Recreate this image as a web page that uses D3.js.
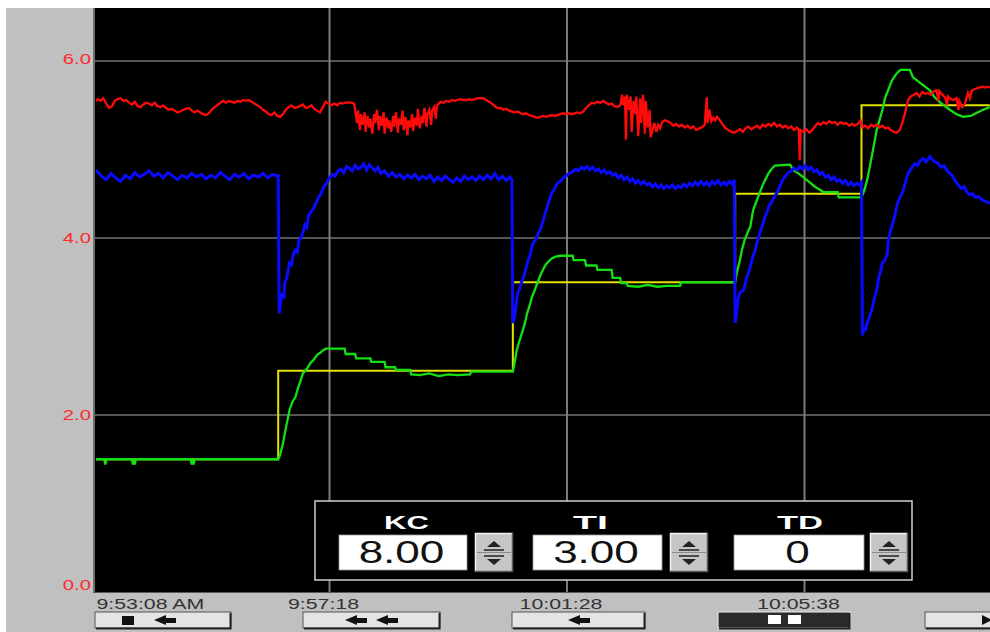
<!DOCTYPE html>
<html>
<head>
<meta charset="utf-8">
<script src="https://cdn.jsdelivr.net/npm/d3@7"></script>
<style>
  html, body { margin: 0; padding: 0; background: #ffffff; }
  svg { display: block; }
  text { font-family: "Liberation Sans", Arial, sans-serif; }
</style>
</head>
<body>
<svg id="trend" width="990" height="632"></svg>
<script>
// ---- trend data: [seconds after 9:53:08, value] ----
const tickSeconds = [0, 250, 500, 750];
const tickLabels = ["9:53:08 AM", "9:57:18", "10:01:28", "10:05:38"];
const yTicks = [0, 2, 4, 6];

// setpoint (yellow)
const setpoint = [[0,1.5],[196,1.5],[196,2.5],[443,2.5],[443,3.5],[677,3.5],[677,4.5],[810,4.5],[810,5.5],[945,5.5]];

// process variable (green)
const processVar = [[0,1.5],[13,1.5],[14,1.44],[15,1.5],[42,1.5],[43,1.44],[44,1.5],[45,1.44],[46,1.5],[104,1.5],[105,1.44],[106,1.5],[107,1.44],[108,1.5],
  [196,1.5],[198,1.55],[201,1.68],[204,1.85],[208,2.06],[211,2.15],[214,2.2],[217,2.31],[220,2.40],[222,2.47],[226,2.52],[230,2.59],[233,2.62],[237,2.68],[240,2.70],[243,2.73],[246,2.75],
  [266,2.75],[267,2.69],[277,2.69],[278,2.64],[293,2.64],[294,2.60],[308,2.60],[309,2.54],[319,2.54],[320,2.51],[335,2.51],[336,2.46],[345,2.45],[355,2.47],[365,2.44],[375,2.46],[385,2.45],[398,2.46],[399,2.49],
  [443,2.49],[445,2.60],[447,2.73],[450,2.84],[453,2.94],[456,3.05],[458,3.15],[461,3.25],[463,3.33],[466,3.41],[468,3.47],[472,3.58],[477,3.69],[480,3.73],[484,3.77],[488,3.79],[493,3.80],
  [506,3.80],[507,3.75],[519,3.75],[520,3.69],[531,3.69],[532,3.64],[547,3.64],[548,3.55],[556,3.55],[557,3.49],[563,3.49],[564,3.46],[575,3.45],[585,3.47],[595,3.45],[605,3.46],[619,3.46],[620,3.5],
  [677,3.5],[679,3.62],[682,3.75],[684,3.86],[687,3.98],[690,4.06],[693,4.13],[696,4.32],[701,4.46],[706,4.6],[712,4.73],[716,4.79],[719,4.82],[735,4.83],[738,4.77],[745,4.72],[752,4.66],[761,4.58],[770,4.52],[785,4.52],[786,4.46],
  [810,4.46],[813,4.54],[816,4.66],[819,4.82],[822,4.99],[826,5.22],[832,5.45],[835,5.59],[838,5.67],[842,5.78],[847,5.86],[851,5.90],[861,5.90],[864,5.82],[872,5.75],[882,5.67],[887,5.59],[893,5.53],[903,5.45],[910,5.40],[917,5.37],[925,5.38],[932,5.42],[938,5.45],[945,5.48]];

// controller output (blue)
const ctrlOutput = [[0,4.72],[5,4.76],[10,4.70],[15,4.66],[20,4.73],[25,4.68],[30,4.64],[35,4.71],[40,4.67],[45,4.74],[50,4.69],[55,4.72],[60,4.76],[65,4.70],[70,4.73],[75,4.68],[80,4.74],[85,4.70],[90,4.66],[95,4.71],
  [100,4.68],[105,4.73],[110,4.69],[115,4.72],[120,4.67],[125,4.71],[130,4.68],[135,4.74],[140,4.70],[145,4.66],[150,4.72],[155,4.69],[160,4.73],[165,4.67],[170,4.71],[175,4.69],[180,4.73],[185,4.68],[190,4.72],[195,4.70],[196,4.72],
  [197,3.15],[199,3.30],[200,3.38],[202,3.32],[203,3.50],[205,3.55],[208,3.72],[210,3.70],[212,3.82],[214,3.86],[216,3.84],[218,3.98],[220,4.00],[222,4.06],[224,4.15],[226,4.12],[228,4.25],[230,4.29],[233,4.33],[236,4.40],[238,4.45],
  [241,4.50],[244,4.58],[247,4.62],[250,4.68],[253,4.72],[256,4.70],[259,4.76],[262,4.78],[265,4.74],[268,4.81],[271,4.79],[274,4.76],[277,4.82],[280,4.78],[283,4.80],[286,4.84],[289,4.77],[292,4.83],[295,4.79],[298,4.76],
  [301,4.80],[304,4.73],[308,4.76],[312,4.70],[316,4.74],[320,4.69],[324,4.72],[328,4.67],[332,4.71],[336,4.68],[340,4.72],[344,4.66],[348,4.70],[352,4.67],[356,4.71],[360,4.64],[364,4.69],[368,4.65],[372,4.70],[376,4.66],
  [380,4.63],[384,4.68],[388,4.64],[392,4.70],[396,4.66],[400,4.69],[404,4.65],[408,4.70],[412,4.66],[416,4.71],[420,4.67],[424,4.73],[428,4.66],[432,4.70],[436,4.65],[440,4.69],[442,4.66],
  [443,3.04],[445,3.11],[447,3.30],[448,3.38],[450,3.42],[452,3.50],[454,3.55],[456,3.62],[459,3.75],[461,3.80],[464,3.94],[467,3.98],[470,4.06],[472,4.10],[475,4.20],[477,4.28],[480,4.38],[482,4.45],[484,4.51],[487,4.56],
  [490,4.62],[493,4.64],[496,4.68],[499,4.70],[502,4.73],[506,4.75],[509,4.78],[512,4.76],[515,4.80],[518,4.78],[521,4.81],[524,4.77],[527,4.80],[530,4.76],[533,4.78],[536,4.74],[539,4.77],[542,4.73],[545,4.75],[548,4.71],
  [551,4.73],[554,4.68],[557,4.71],[560,4.66],[563,4.69],[566,4.64],[569,4.67],[572,4.62],[575,4.65],[578,4.61],[581,4.64],[584,4.60],[587,4.62],[590,4.58],[593,4.61],[596,4.57],[599,4.60],[602,4.56],[605,4.59],[608,4.57],
  [611,4.60],[614,4.56],[617,4.59],[620,4.57],[623,4.61],[626,4.58],[629,4.62],[632,4.59],[635,4.63],[638,4.60],[641,4.64],[644,4.60],[647,4.63],[650,4.59],[653,4.64],[656,4.61],[659,4.65],[662,4.60],[665,4.63],[668,4.60],
  [671,4.64],[674,4.61],[676,4.66],
  [677,3.04],[678,3.11],[680,3.30],[682,3.38],[684,3.40],[686,3.41],[688,3.50],[690,3.58],[692,3.64],[694,3.72],[696,3.80],[698,3.86],[700,3.95],[703,4.06],[705,4.12],[708,4.23],[710,4.28],[713,4.37],[716,4.42],[719,4.48],
  [721,4.51],[724,4.58],[727,4.66],[730,4.70],[733,4.74],[736,4.76],[739,4.79],[742,4.77],[745,4.81],[748,4.78],[751,4.82],[754,4.77],[757,4.80],[760,4.75],[763,4.77],[766,4.72],[769,4.74],[772,4.69],[775,4.71],[778,4.66],
  [781,4.69],[784,4.64],[787,4.66],[790,4.62],[793,4.65],[796,4.60],[799,4.63],[802,4.59],[805,4.62],[808,4.60],[810,4.63],
  [811,2.90],[813,3.00],[814,2.95],[816,3.04],[818,3.10],[821,3.19],[823,3.30],[826,3.41],[828,3.55],[830,3.62],[832,3.72],[834,3.74],[837,3.81],[838,3.95],[840,4.06],[843,4.17],[845,4.25],[848,4.40],[851,4.47],[854,4.54],
  [856,4.62],[859,4.73],[862,4.78],[866,4.84],[869,4.82],[872,4.88],[875,4.90],[878,4.86],[882,4.92],[885,4.88],[888,4.86],[891,4.84],[894,4.80],[897,4.82],[900,4.76],[903,4.73],[906,4.70],[909,4.64],[912,4.60],[915,4.56],
  [918,4.58],[921,4.52],[924,4.49],[927,4.50],[930,4.46],[933,4.47],[936,4.44],[939,4.42],[942,4.41],[945,4.39]];

// auxiliary measurement (red)
const auxValue = [[0,5.53],[3,5.54],[6,5.57],[9,5.55],[12,5.58],[15,5.52],[18,5.47],[21,5.49],[24,5.55],[27,5.57],[30,5.58],[33,5.55],[36,5.56],[39,5.53],[42,5.51],[45,5.54],[48,5.49],[51,5.48],[54,5.51],[57,5.53],
  [60,5.52],[63,5.50],[66,5.53],[69,5.49],[72,5.48],[75,5.50],[78,5.47],[81,5.45],[84,5.46],[87,5.44],[90,5.42],[93,5.43],[96,5.45],[99,5.46],[102,5.47],[105,5.44],[108,5.42],[111,5.44],[114,5.42],[117,5.40],
  [120,5.39],[123,5.41],[126,5.45],[129,5.48],[132,5.50],[135,5.53],[138,5.55],[141,5.53],[144,5.55],[147,5.54],[150,5.53],[153,5.55],[156,5.54],[159,5.56],[162,5.55],[165,5.56],[168,5.54],[171,5.52],[174,5.50],[177,5.48],
  [180,5.45],[183,5.43],[186,5.40],[189,5.39],[192,5.42],[195,5.38],[198,5.37],[201,5.40],[204,5.45],[207,5.48],[210,5.50],[213,5.47],[216,5.48],[219,5.49],[222,5.51],[225,5.47],[228,5.48],[231,5.50],[234,5.46],[237,5.44],
  [240,5.42],[243,5.48],[246,5.54],[249,5.52],[252,5.50],[255,5.52],[258,5.50],[261,5.53],[264,5.52],[267,5.53],[270,5.53],[273,5.53],[276,5.52],
  [277,5.45],[279,5.30],[280,5.44],[282,5.22],[283,5.40],[285,5.28],[287,5.42],[288,5.20],[290,5.38],[292,5.25],[293,5.35],[295,5.18],[297,5.40],[298,5.30],[300,5.45],[302,5.22],[303,5.38],[305,5.27],[307,5.42],[308,5.18],
  [310,5.36],[312,5.24],[313,5.33],[315,5.20],[317,5.38],[318,5.26],[320,5.42],[322,5.19],[323,5.35],[325,5.28],[327,5.44],[328,5.22],[330,5.37],[332,5.16],[333,5.33],[335,5.25],[337,5.40],[338,5.21],[340,5.36],[342,5.27],
  [343,5.46],[345,5.24],[347,5.38],[348,5.30],[350,5.47],[352,5.26],[353,5.40],[355,5.45],[357,5.28],[358,5.44],[360,5.48],[362,5.35],[363,5.50],[365,5.52],[367,5.54],
  [370,5.53],[373,5.55],[376,5.54],[379,5.56],[382,5.55],[385,5.56],[388,5.57],[391,5.56],[394,5.56],[397,5.57],[400,5.56],[403,5.57],[406,5.58],[409,5.58],[412,5.58],[415,5.56],[418,5.54],[421,5.52],[424,5.49],[427,5.47],
  [430,5.47],[433,5.45],[436,5.46],[439,5.44],[442,5.43],[445,5.42],[448,5.43],[451,5.41],[454,5.40],[457,5.41],[460,5.39],[463,5.38],[466,5.37],[469,5.36],[472,5.37],[475,5.38],[478,5.37],[481,5.38],[484,5.39],[487,5.38],
  [490,5.39],[493,5.40],[496,5.41],[499,5.40],[502,5.41],[505,5.40],[508,5.41],[511,5.42],[514,5.41],[517,5.43],[520,5.47],[523,5.50],[526,5.53],[529,5.52],[532,5.54],[535,5.53],[538,5.55],[541,5.53],[544,5.51],[547,5.52],
  [550,5.49],[553,5.48],[556,5.50],[558,5.62],[559,5.50],[561,5.60],[562,5.11],[563,5.62],[565,5.45],[567,5.60],[568,5.20],[570,5.55],[572,5.40],[573,5.60],[575,5.15],[577,5.58],[578,5.30],[580,5.62],[582,5.18],[583,5.55],
  [585,5.25],[587,5.45],[588,5.14],[590,5.22],[592,5.30],[594,5.20],[596,5.28],[598,5.24],[600,5.31],[603,5.33],[606,5.32],[609,5.30],[612,5.27],[615,5.29],[618,5.26],[621,5.28],[624,5.25],[627,5.27],[630,5.24],[633,5.26],
  [636,5.22],[639,5.24],[642,5.25],[645,5.28],[647,5.59],[648,5.30],[650,5.45],[652,5.32],[654,5.36],[656,5.33],[658,5.37],[661,5.33],[664,5.28],[667,5.24],[670,5.22],[673,5.20],[676,5.19],[679,5.21],[682,5.23],[685,5.20],
  [688,5.24],[691,5.26],[694,5.23],[697,5.25],[700,5.27],[703,5.24],[706,5.28],[709,5.26],[712,5.29],[715,5.27],[718,5.30],[721,5.26],[724,5.28],[727,5.25],[730,5.27],[733,5.24],[736,5.26],[739,5.22],[742,5.25],[744,5.22],
  [745,4.88],[746,5.22],[749,5.20],[752,5.23],[755,5.19],[758,5.22],[761,5.26],[764,5.30],[767,5.28],[770,5.31],[773,5.29],[776,5.32],[779,5.30],[782,5.31],[785,5.28],[788,5.31],[791,5.29],[794,5.30],[797,5.27],[800,5.29],
  [803,5.27],[806,5.29],[809,5.33],[811,5.25],[814,5.27],[817,5.24],[820,5.28],[823,5.26],[826,5.28],[829,5.25],[832,5.27],[835,5.24],[838,5.25],[841,5.22],[844,5.20],[847,5.19],[850,5.22],[853,5.30],[856,5.42],[859,5.56],
  [862,5.60],[865,5.62],[868,5.64],[871,5.60],[874,5.65],[877,5.63],[880,5.64],[883,5.62],[886,5.66],[889,5.67],[891,5.55],[892,5.66],[895,5.62],[898,5.59],[900,5.50],[901,5.60],[904,5.57],[907,5.56],[910,5.58],[912,5.45],
  [913,5.55],[916,5.48],[919,5.52],[922,5.64],[924,5.58],[926,5.66],[928,5.68],[931,5.69],[934,5.70],[937,5.71],[940,5.70],[943,5.71],[945,5.70]];

// tuning panel
const tuningNames = ["KC", "TI", "TD"];
const tuningValues = ["8.00", "3.00", "0"];

// ---- drawing ----
const svg = d3.select("#trend");
const W = 990, H = 632;
const plot = { left: 95, right: 990, top: 8, bottom: 592 };

const base = new Date(2000, 0, 1, 9, 53, 8);
const toDate = s => new Date(base.getTime() + s * 1000);

const x = d3.scaleTime().domain([toDate(0), toDate(945)]).range([92, 989.75]);
const y = d3.scaleLinear().domain([0, 6.6]).range([plot.bottom, plot.top]);

// frame: white top strip, grey window body, black trend area
svg.append("rect").attr("x", 0).attr("y", 0).attr("width", W).attr("height", H).attr("fill", "#ffffff");
svg.append("rect").attr("x", 6).attr("y", 8).attr("width", W - 6).attr("height", H - 8).attr("fill", "#c0c0c0");
svg.append("rect").attr("x", plot.left).attr("y", plot.top)
  .attr("width", plot.right - plot.left).attr("height", plot.bottom - plot.top).attr("fill", "#000000");
svg.append("line").attr("x1", 94).attr("x2", 94).attr("y1", plot.top).attr("y2", plot.bottom + 1)
  .attr("stroke", "#6e6e6e").attr("stroke-width", 2);
svg.append("line").attr("x1", 93).attr("x2", W).attr("y1", plot.bottom + 0.5).attr("y2", plot.bottom + 0.5)
  .attr("stroke", "#5a5a5a").attr("stroke-width", 1);

// grid
const grid = svg.append("g");
grid.selectAll("line.h").data(yTicks.filter(v => v > 0)).join("line")
  .attr("x1", plot.left).attr("x2", plot.right)
  .attr("y1", d => y(d)).attr("y2", d => y(d))
  .attr("stroke", "#555555").attr("stroke-width", 2);
grid.selectAll("line.v").data(tickSeconds.slice(1)).join("line")
  .attr("x1", d => x(toDate(d))).attr("x2", d => x(toDate(d)))
  .attr("y1", plot.top).attr("y2", plot.bottom)
  .attr("stroke", "#7a7a7a").attr("stroke-width", 2);

// y axis
const stretch = (sel, k) => sel.each(function () {
  const w = this.getComputedTextLength();
  d3.select(this).attr("textLength", w * k).attr("lengthAdjust", "spacingAndGlyphs");
});
const yAxisG = svg.append("g").attr("transform", "translate(91,0)")
  .call(d3.axisLeft(y).tickValues(yTicks).tickFormat(d3.format(".1f")).tickSize(0).tickPadding(0));
yAxisG.select(".domain").remove();
yAxisG.selectAll("text")
  .attr("fill", "#ff2a2a").attr("font-size", 14).attr("font-family", "Liberation Sans, Arial, sans-serif")
  .attr("dy", d => d === 0 ? "-0.18em" : (d === 6 ? "0.2em" : "0.32em"))
  .call(stretch, 1.45);

// series
svg.append("clipPath").attr("id", "plotClip").append("rect")
  .attr("x", plot.left + 1).attr("y", plot.top).attr("width", plot.right - plot.left).attr("height", plot.bottom - plot.top);
const line = d3.line().x(d => x(toDate(d[0]))).y(d => y(d[1]));
const series = svg.append("g").attr("clip-path", "url(#plotClip)");
const drawSeries = (data, color, width) => series.append("path").datum(data)
  .attr("d", line).attr("fill", "none").attr("stroke", color)
  .attr("stroke-width", width).attr("stroke-linejoin", "miter").attr("stroke-linecap", "butt");
drawSeries(setpoint, "#e2e200", 2);
drawSeries(processVar, "#12e012", 2.3);
drawSeries(ctrlOutput, "#0a0aff", 3);
drawSeries(auxValue, "#ff0a0a", 2.3);

// time axis
const xAxisG = svg.append("g").attr("transform", `translate(0,${plot.bottom + 6})`)
  .call(d3.axisBottom(x).tickValues(tickSeconds.map(toDate)).tickFormat((d, i) => tickLabels[i]).tickSize(0).tickPadding(0));
xAxisG.select(".domain").remove();
xAxisG.selectAll("text")
  .attr("fill", "#333333").attr("font-size", 15).attr("font-family", "Liberation Sans, Arial, sans-serif")
  .attr("text-anchor", (d, i) => i === 0 ? "start" : "middle")
  .attr("dx", (d, i) => i === 0 ? 4 : -6.5)
  .call(stretch, 1.42);

// scroll buttons under the time axis
const buttons = svg.append("g");
const btnY = 612, btnH = 16;
function button(x0, w, dark) {
  const g = buttons.append("g");
  g.append("rect").attr("x", x0).attr("y", btnY).attr("width", w).attr("height", btnH)
    .attr("fill", dark ? "#2a2a2a" : "#e4e4e4").attr("stroke", dark ? "#f0f0f0" : "#555555").attr("stroke-width", 1);
  g.append("path").attr("d", `M${x0 + w - 0.5},${btnY + 1}V${btnY + btnH + 0.5}H${x0 + 1}`)
    .attr("fill", "none").attr("stroke", "#222222").attr("stroke-width", 2);
  return g;
}
function leftArrow(g, tipX) {
  const cy = btnY + btnH / 2;
  g.append("path").attr("d", `M${tipX},${cy}L${tipX + 12},${cy - 5}L${tipX + 12},${cy - 2}L${tipX + 22},${cy - 2}L${tipX + 22},${cy + 3}L${tipX + 12},${cy + 3}L${tipX + 12},${cy + 5}Z`)
    .attr("fill", "#111111");
}
let b = button(95, 136, false);
b.append("rect").attr("x", 122).attr("y", btnY + 4).attr("width", 12).attr("height", 9).attr("fill", "#111111");
leftArrow(b, 154);
b = button(303, 137, false);
leftArrow(b, 345); leftArrow(b, 376);
b = button(512, 133, false);
leftArrow(b, 568);
b = button(718, 132, true);
b.append("rect").attr("x", 768).attr("y", btnY + 3).attr("width", 13).attr("height", 9).attr("fill", "#ffffff");
b.append("rect").attr("x", 788).attr("y", btnY + 3).attr("width", 13).attr("height", 9).attr("fill", "#ffffff");
b = button(925, 70, false);
b.append("path").attr("d", `M982,${btnY + 3}L992,${btnY + 8}L982,${btnY + 13}Z`).attr("fill", "#111111");

// tuning panel
const panel = svg.append("g");
panel.append("rect").attr("x", 315).attr("y", 501).attr("width", 597).attr("height", 79)
  .attr("fill", "#000000").attr("stroke", "#cfcfcf").attr("stroke-width", 1.5);
const labelX = [406.5, 590.5, 800];
const labelW = [45, 35, 46];
const boxX = [339, 533, 734];
const boxW = [128, 129, 130];
const spinX = [475, 670, 870];
tuningNames.forEach((name, i) => {
  panel.append("text").attr("x", labelX[i]).attr("y", 529).attr("text-anchor", "middle")
    .attr("font-size", 18).attr("font-weight", "bold").attr("fill", "#ffffff")
    .attr("textLength", labelW[i]).attr("lengthAdjust", "spacingAndGlyphs").text(name);
  panel.append("rect").attr("x", boxX[i]).attr("y", 535).attr("width", boxW[i]).attr("height", 35)
    .attr("fill", "#ffffff").attr("stroke", "#9a9a9a").attr("stroke-width", 0.8);
  panel.append("text").attr("x", boxX[i] + boxW[i] / 2 - 1.5).attr("y", 563).attr("text-anchor", "middle")
    .attr("font-size", 31).attr("fill", "#111111").text(tuningValues[i])
    .call(stretch, 1.42);
  // spinner
  const sx = spinX[i], sw = 38, sy = 533, sh = 39;
  const sp = panel.append("g");
  sp.append("rect").attr("x", sx).attr("y", sy).attr("width", sw).attr("height", sh).attr("fill", "#c6c6c6");
  sp.append("path").attr("d", `M${sx + 0.5},${sy + sh}V${sy + 0.5}H${sx + sw}`).attr("fill", "none").attr("stroke", "#f2f2f2").attr("stroke-width", 1.5);
  sp.append("path").attr("d", `M${sx + sw - 0.5},${sy}V${sy + sh - 0.5}H${sx}`).attr("fill", "none").attr("stroke", "#5a5a5a").attr("stroke-width", 1.5);
  sp.append("line").attr("x1", sx + 2).attr("x2", sx + sw - 2).attr("y1", sy + sh / 2).attr("y2", sy + sh / 2).attr("stroke", "#8a8a8a").attr("stroke-width", 1);
  const cx = sx + sw / 2;
  sp.append("path").attr("d", `M${cx - 7},${sy + 14}L${cx + 7},${sy + 14}L${cx},${sy + 8}Z`).attr("fill", "#222222");
  sp.append("line").attr("x1", cx - 10).attr("x2", cx + 10).attr("y1", sy + 17).attr("y2", sy + 17).attr("stroke", "#222222").attr("stroke-width", 1.5);
  sp.append("line").attr("x1", cx - 10).attr("x2", cx + 10).attr("y1", sy + 23).attr("y2", sy + 23).attr("stroke", "#222222").attr("stroke-width", 1.5);
  sp.append("path").attr("d", `M${cx - 7},${sy + 26}L${cx + 7},${sy + 26}L${cx},${sy + 32}Z`).attr("fill", "#222222");
});
</script>
</body>
</html>
